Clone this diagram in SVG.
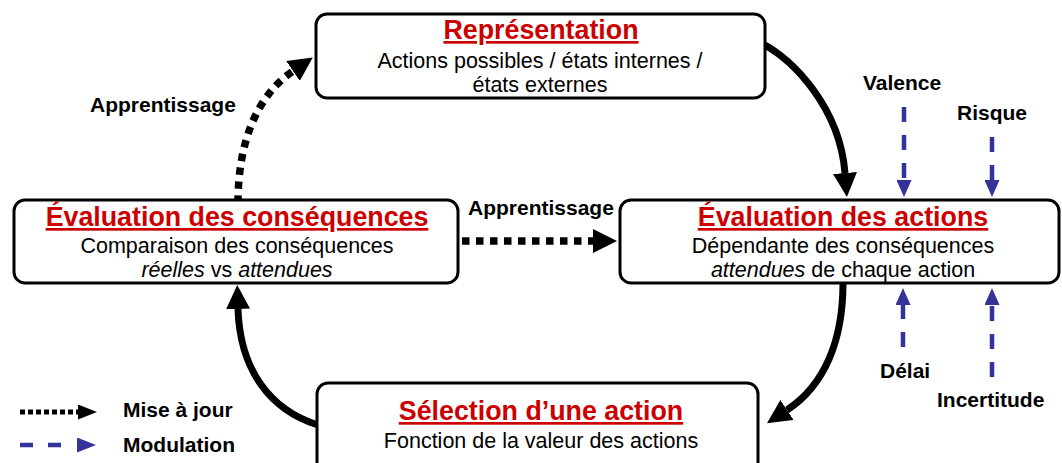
<svg xmlns="http://www.w3.org/2000/svg" width="1062" height="463" viewBox="0 0 1062 463">
  <style>
    .box { fill: #ffffff; stroke: #000000; stroke-width: 3; }
    .title { font-family: "Liberation Sans", Arial, sans-serif; font-weight: bold; font-size: 26.8px; fill: #cc0000; text-anchor: middle; text-decoration: underline; }
    .sub { font-family: "Liberation Sans", Arial, sans-serif; font-size: 21.5px; fill: #000000; text-anchor: middle; }
    .lbl { font-family: "Liberation Sans", Arial, sans-serif; font-weight: bold; font-size: 21px; fill: #000000; }
    .solid { fill: none; stroke: #000000; stroke-width: 7; marker-end: url(#headBlack); }
    .dotted { fill: none; stroke: #000000; stroke-width: 7.5; stroke-dasharray: 7.5 6.5; marker-end: url(#headBlack); }
    .mod { fill: none; stroke: #333399; stroke-width: 4.5; stroke-dasharray: 15 13; marker-end: url(#headBlue); }
  </style>
  <defs>
    <marker id="headBlack" viewBox="0 0 24 24" refX="0" refY="12" markerWidth="24" markerHeight="24" markerUnits="userSpaceOnUse" orient="auto">
      <path d="M0,0 L24,12 L0,24 Z" fill="#000000"/>
    </marker>
    <marker id="headBlue" viewBox="0 0 17 15" refX="0" refY="7.5" markerWidth="17" markerHeight="15" markerUnits="userSpaceOnUse" orient="auto">
      <path d="M0,0 L17,7.5 L0,15 Z" fill="#333399"/>
    </marker>
    <marker id="headSmall" viewBox="0 0 19 15" refX="0" refY="7.5" markerWidth="19" markerHeight="15" markerUnits="userSpaceOnUse" orient="auto">
      <path d="M0,0 L19,7.5 L0,15 Z" fill="#000000"/>
    </marker>
    <marker id="headSmallBlue" viewBox="0 0 19 15" refX="0" refY="7.5" markerWidth="19" markerHeight="15" markerUnits="userSpaceOnUse" orient="auto">
      <path d="M0,0 L19,7.5 L0,15 Z" fill="#333399"/>
    </marker>
  </defs>

  <!-- connectors of the cycle -->
  <g id="connectors">
    <path class="solid" d="M755,40 C795,58 840,110 845,173"/>
    <path class="solid" d="M843,283 C843,340 825,385 787,410"/>
    <path class="solid" d="M318,425 C270,410 240,370 238,309"/>
    <path class="dotted" d="M238,203 C238,140 258,95 293,71"/>
    <path class="dotted" d="M462,241 L593,241"/>
    <!-- modulating factors -->
    <path class="mod" d="M904,107 L904,180"/>
    <path class="mod" d="M992,137 L992,180"/>
    <path class="mod" d="M903,347 L903,305"/>
    <path class="mod" d="M992,377 L992,305"/>
  </g>

  <g id="node-representation">
    <rect class="box" x="316" y="14" width="449" height="84" rx="11"/>
    <text class="title" x="541" y="39">Représentation</text>
    <text class="sub" x="540" y="68">Actions possibles / états internes /</text>
    <text class="sub" x="540" y="92">états externes</text>
  </g>

  <g id="node-eval-consequences">
    <rect class="box" x="14" y="200" width="444" height="83" rx="11"/>
    <text class="title" x="237" y="226">Évaluation des conséquences</text>
    <text class="sub" x="237" y="253">Comparaison des conséquences</text>
    <text class="sub" x="237" y="277"><tspan font-style="italic">réelles</tspan> vs <tspan font-style="italic">attendues</tspan></text>
  </g>

  <g id="node-eval-actions">
    <rect class="box" x="620" y="200" width="439" height="83" rx="11"/>
    <text class="title" x="843" y="226">Évaluation des actions</text>
    <text class="sub" x="843" y="253">Dépendante des conséquences</text>
    <text class="sub" x="843" y="277"><tspan font-style="italic">attendues</tspan> de chaque action</text>
  </g>

  <g id="node-selection">
    <rect class="box" x="317" y="383" width="441" height="100" rx="11"/>
    <text class="title" x="541" y="420">Sélection d’une action</text>
    <text class="sub" x="541" y="448">Fonction de la valeur des actions</text>
  </g>

  <g id="labels">
    <text class="lbl" x="90" y="112">Apprentissage</text>
    <text class="lbl" x="468" y="215">Apprentissage</text>
    <text class="lbl" x="863" y="90">Valence</text>
    <text class="lbl" x="957" y="120">Risque</text>
    <text class="lbl" x="880" y="378">Délai</text>
    <text class="lbl" x="937" y="407">Incertitude</text>
  </g>

  <g id="legend">
    <path d="M20,412 L78,412" fill="none" stroke="#000000" stroke-width="5" stroke-dasharray="5 3" marker-end="url(#headSmall)"/>
    <text class="lbl" x="123" y="417">Mise à jour</text>
    <path d="M20,445 L77,445" fill="none" stroke="#333399" stroke-width="4.5" stroke-dasharray="13 15 13 20" marker-end="url(#headSmallBlue)"/>
    <text class="lbl" x="123" y="452">Modulation</text>
  </g>
</svg>
